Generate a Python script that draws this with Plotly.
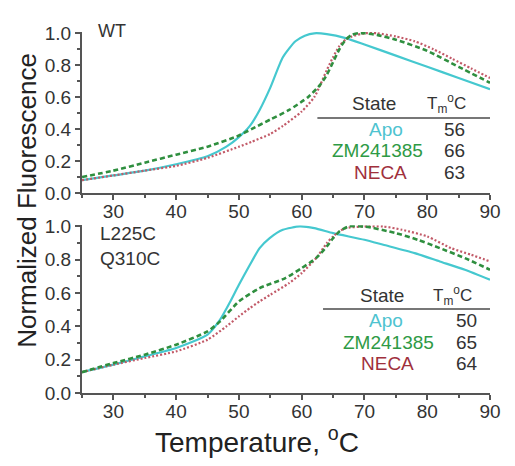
import plotly.graph_objects as go

# ---- data ----
temp_wt_apo = [25, 30, 35, 40, 45, 48, 50, 51.75, 53.3, 55, 57, 59, 60.5, 62, 64, 67, 70, 75, 80, 85, 90]
wt_apo      = [0.08, 0.11, 0.14, 0.18, 0.23, 0.29, 0.35, 0.42, 0.52, 0.66, 0.85, 0.95, 0.985, 1.0, 0.995, 0.97, 0.93, 0.86, 0.79, 0.72, 0.65]

temp_wt_zm = [25, 30, 35, 40, 45, 50, 52, 55, 58, 61, 63, 64, 65, 66, 67, 68, 69, 70, 72, 75, 80, 85, 90]
wt_zm      = [0.10, 0.14, 0.19, 0.24, 0.29, 0.36, 0.40, 0.46, 0.52, 0.60, 0.68, 0.74, 0.82, 0.90, 0.96, 0.99, 1.0, 1.0, 0.99, 0.96, 0.89, 0.79, 0.69]

temp_wt_neca = [25, 30, 35, 40, 45, 50, 52, 55, 57, 60, 62, 63, 64, 65, 66, 67, 68, 70, 72, 75, 78, 81, 84, 87, 90]
wt_neca      = [0.08, 0.11, 0.14, 0.17, 0.22, 0.29, 0.32, 0.37, 0.42, 0.51, 0.60, 0.68, 0.77, 0.85, 0.92, 0.96, 0.98, 1.0, 1.0, 0.98, 0.95, 0.90, 0.84, 0.78, 0.72]

temp_mut_apo = [25, 30, 35, 40, 45, 47, 48.5, 50, 51.75, 53.3, 54.9, 57, 59.7, 62, 65, 70, 73, 78, 82, 86, 90]
mut_apo      = [0.125, 0.17, 0.22, 0.27, 0.35, 0.44, 0.54, 0.65, 0.77, 0.87, 0.93, 0.98, 1.0, 0.99, 0.96, 0.92, 0.89, 0.84, 0.79, 0.74, 0.68]

temp_mut_zm = [25, 30, 35, 40, 45, 47, 50, 53.3, 57.4, 60, 62.3, 64, 65, 66, 67.5, 70, 75, 78.5, 82, 86, 90]
mut_zm      = [0.125, 0.18, 0.23, 0.29, 0.37, 0.43, 0.55, 0.63, 0.69, 0.75, 0.81, 0.88, 0.93, 0.97, 1.0, 1.0, 0.96, 0.92, 0.87, 0.81, 0.74]

temp_mut_neca = [25, 30, 35, 40, 45, 48, 50, 51.75, 53.3, 55, 58, 60, 62.3, 64, 65, 66, 67, 70, 73, 76, 80, 83.8, 87, 90]
mut_neca      = [0.125, 0.17, 0.21, 0.25, 0.32, 0.40, 0.46, 0.51, 0.55, 0.59, 0.66, 0.72, 0.81, 0.90, 0.94, 0.97, 0.99, 1.0, 1.0, 0.98, 0.94, 0.87, 0.83, 0.79]

states   = ["Apo", "ZM241385", "NECA"]
tm_wt    = ["56", "66", "63"]
tm_mut   = ["50", "65", "64"]
panel_labels = ["WT", "L225C<br>Q310C"]
x_ticks  = [30, 40, 50, 60, 70, 80, 90]

line_colors = {"Apo": "#45c8cf", "ZM241385": "#2f8f3f", "NECA": "#c25a68"}
text_colors = {"Apo": "#4ec3d0", "ZM241385": "#2e9a45", "NECA": "#a0303c"}
dashes = {"Apo": "solid", "ZM241385": "5px,3px", "NECA": "2px,2px"}
widths = {"Apo": 2.2, "ZM241385": 2.6, "NECA": 2.2}

fig = go.Figure()

series = [
    ("x", "y", temp_wt_apo, wt_apo, "Apo"),
    ("x", "y", temp_wt_neca, wt_neca, "NECA"),
    ("x", "y", temp_wt_zm, wt_zm, "ZM241385"),
    ("x2", "y2", temp_mut_apo, mut_apo, "Apo"),
    ("x2", "y2", temp_mut_neca, mut_neca, "NECA"),
    ("x2", "y2", temp_mut_zm, mut_zm, "ZM241385"),
]
for xa, ya, xs, ys, name in series:
    fig.add_trace(go.Scatter(
        x=xs, y=ys, xaxis=xa, yaxis=ya, mode="lines", name=name,
        line=dict(color=line_colors[name], dash=dashes[name], width=widths[name], shape="spline", smoothing=0.6),
        showlegend=False, hoverinfo="skip"))

FONT = "Liberation Sans, Arial, sans-serif"
axcol = "#555555"
txtcol = "#333333"

def xaxis_cfg(anchor):
    return dict(range=[25, 90], anchor=anchor, showline=True, linecolor=axcol, linewidth=2,
                ticks="outside", ticklen=5, tickwidth=1.5, tickcolor=axcol,
                tickvals=x_ticks, showgrid=False, zeroline=False, ticklabelstandoff=-5,
                tickfont=dict(size=19, color=txtcol, family=FONT),
                minor=dict(ticks="outside", ticklen=3, tickwidth=1.5, tickcolor=axcol, dtick=5, tick0=25),
                domain=[0, 1])

def yaxis_cfg(anchor, domain):
    return dict(range=[0, 1.008], anchor=anchor, domain=domain, showline=True, linecolor=axcol, linewidth=2,
                ticks="outside", ticklen=5, tickwidth=1.5, tickcolor=axcol,
                tickvals=[0, 0.2, 0.4, 0.6, 0.8, 1.0], tickformat=".1f", showgrid=False, zeroline=False,
                tickfont=dict(size=19, color=txtcol, family=FONT),
                minor=dict(ticks="outside", ticklen=3, tickwidth=1.5, tickcolor=axcol, dtick=0.1, tick0=0))

fig.update_layout(
    width=515, height=466,
    margin=dict(l=82, r=25, t=32, b=73),
    paper_bgcolor="white", plot_bgcolor="white",
    font=dict(family=FONT, color=txtcol),
    xaxis=xaxis_cfg("y"),
    yaxis=yaxis_cfg("x", [0.554, 1.0]),
    xaxis2=xaxis_cfg("y2"),
    yaxis2=yaxis_cfg("x2", [0.0, 0.465]),
)

# panel labels
fig.add_annotation(x=27.3, y=1.0, xref="x", yref="y", text=panel_labels[0], showarrow=False, yshift=2,
                   xanchor="left", yanchor="middle", font=dict(size=18, color=txtcol, family=FONT))
fig.add_annotation(x=27.5, y=0.88, xref="x2", yref="y2", text=panel_labels[1], showarrow=False,
                   xanchor="left", yanchor="middle", align="left", font=dict(size=19, color=txtcol, family=FONT))

def table(xref, yref, tms, state_x, tm_x, num_x, row_xs, head_y, line_y, line_x0, line_x1, row_ys):
    fig.add_annotation(x=state_x, y=head_y, xref=xref, yref=yref, text="State", showarrow=False,
                       font=dict(size=19, color=txtcol, family=FONT))
    fig.add_annotation(x=tm_x, y=head_y, xref=xref, yref=yref, text="T<sub>m</sub><sup>o</sup>C", showarrow=False,
                       font=dict(size=17, color=txtcol, family=FONT))
    fig.add_shape(type="line", xref=xref, yref=yref, x0=line_x0, x1=line_x1, y0=line_y, y1=line_y,
                  line=dict(color="#777777", width=2))
    for s, t, rx, ry in zip(states, tms, row_xs, row_ys):
        fig.add_annotation(x=rx, y=ry, xref=xref, yref=yref, text=s, showarrow=False,
                           font=dict(size=19, color=text_colors[s], family=FONT))
        fig.add_annotation(x=num_x, y=ry, xref=xref, yref=yref, text=t, showarrow=False,
                           font=dict(size=19, color=txtcol, family=FONT))

table("x", "y", tm_wt, 71.5, 83.0, 84.4, [73.4, 72.1, 72.5], 0.56, 0.47, 62.5, 90.4, [0.40, 0.265, 0.13])
table("x2", "y2", tm_mut, 72.8, 84.1, 86.3, [73.4, 73.9, 73.6], 0.585, 0.505, 63.4, 91.2, [0.435, 0.305, 0.18])

# axis titles
fig.add_annotation(x=0.429, y=-0.13, xref="paper", yref="paper", xanchor="center", yanchor="middle",
                   text="Temperature, <sup>o</sup>C", showarrow=False, font=dict(size=28, color="#222222", family=FONT))
fig.add_annotation(x=-0.135, y=0.535, xref="paper", yref="paper", xanchor="center", yanchor="middle",
                   text="Normalized Fluorescence", textangle=-90, showarrow=False,
                   font=dict(size=26, color="#222222", family=FONT))

fig.write_html("out.html")
